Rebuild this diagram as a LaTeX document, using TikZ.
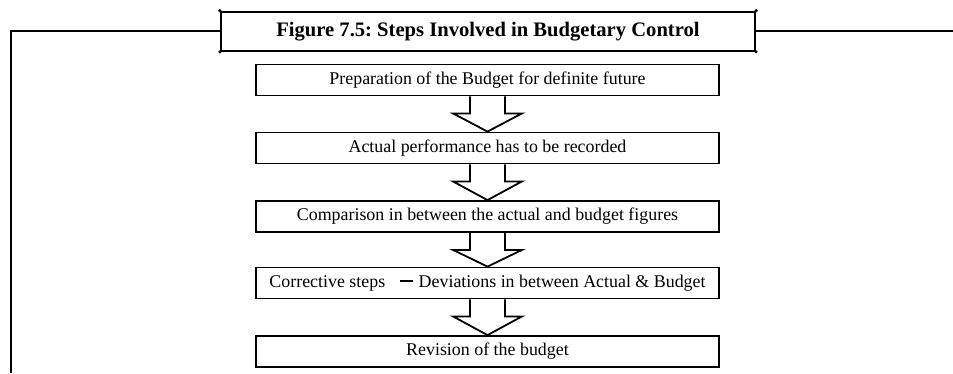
\documentclass[tikz,border=0pt]{standalone}
\usepackage{fontspec}
\setmainfont{Liberation Serif}
\usetikzlibrary{calc}
\frenchspacing
\begin{document}
\begin{tikzpicture}[x=1pt,y=-1pt,
  stepbox/.style={draw, line width=1.8pt, minimum width=463pt, minimum height=31pt,
    inner sep=0pt, font=\fontsize{17.9}{20}\selectfont},
  titlebox/.style={draw, line width=2.2pt, minimum width=534pt, minimum height=39pt,
    inner sep=0pt, font=\bfseries\fontsize{20.6}{23}\selectfont},
  blockarrow/.style={draw, line width=1.8pt, line join=miter},
  frame/.style={line width=1.8pt},
  cornerdot/.style={fill, circle, inner sep=0pt, minimum size=3.4pt}]
\useasboundingbox (0,0) rectangle (953,373);

% title and the frame lines running off it
\node[titlebox] (t) at (488,31.3) {Figure 7.5: Steps Involved in Budgetary Control};
\foreach \c in {north west,north east,south west,south east}
  \node[cornerdot] at (t.\c) {};
\coordinate (tl) at (11,31.3);
\coordinate (bl) at (11,373);
\coordinate (tr) at (953,31.3);
\draw[frame] (t.west) -- (tl) -- (bl);
\draw[frame] (t.east) -- (tr);

% the steps
\node[stepbox] (b1) at (487.5,80) {Preparation of the Budget for definite future};
\node[stepbox] (b2) at (487.5,148) {Actual performance has to be recorded};
\node[stepbox] (b3) at (487.5,216.5) {Comparison in between the actual and budget figures};
\node[stepbox] (b4) at (487.5,283) {Corrective steps\hspace{0.85em}\rule[0.27em]{0.72em}{0.13em}\hspace{0.3em}Deviations in between Actual \& Budget};
\node[stepbox] (b5) at (487.5,351.5) {Revision of the budget};

% hollow block arrows between consecutive steps
\foreach \a/\b in {b1/b2,b2/b3,b3/b4,b4/b5}{
  \draw[blockarrow] ($(\a.south)+(-17.5,0)$) -- ++(0,17) -- ++(-17,0) -- (\b.north)
    -- ($(\a.south)+(34.5,17)$) -- ++(-17,0) -- ($(\a.south)+(17.5,0)$);
}
\end{tikzpicture}
\end{document}
